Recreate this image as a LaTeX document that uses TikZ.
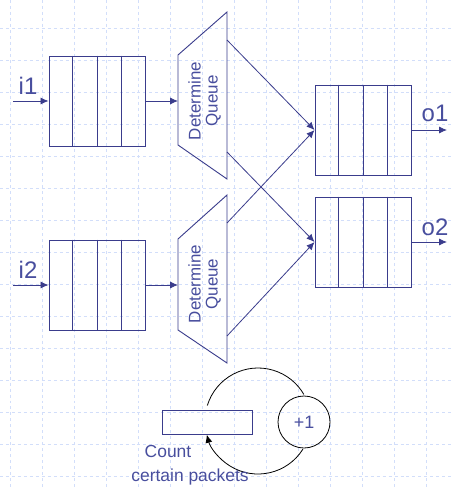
\documentclass[tikz,border=0pt]{standalone}
\usepackage{fontspec}
\setmainfont{Liberation Sans}
\usetikzlibrary{arrows.meta,calc}
\definecolor{ln}{RGB}{58,60,140}
\definecolor{tx}{RGB}{72,78,158}
\definecolor{gr}{RGB}{210,222,250}
\begin{document}
\begin{tikzpicture}[x=1bp,y=-1bp,
  queuebox/.style={draw=ln, line width=0.9bp, minimum width=96bp, minimum height=90bp, inner sep=0pt},
  conn/.style={draw=ln, line width=0.8bp, -{Latex[length=8bp,width=7bp]}},
  lbl/.style={text=tx, font=\fontsize{24}{28}\selectfont, inner sep=0pt, anchor=base},
  dq/.style={text=tx, font=\fontsize{17}{17}\selectfont, rotate=90, align=center, inner sep=0pt},
  gridline/.style={gr, dashed, line width=0.6bp},
  cnttext/.style={text=tx, font=\fontsize{17.5}{18}\selectfont, anchor=base, inner sep=0pt},
  ]
\useasboundingbox (0,0) rectangle (451,487);
\fill[white] (0,0) rectangle (451,487);
\foreach \x in {10,42,...,458} \draw[gridline] (\x,0) -- (\x,487);
\foreach \y in {-4,28,...,490} \draw[gridline] (0,\y) -- (451,\y);

% queues
\node[queuebox] (qi1) at (97,101) {};
\node[queuebox] (qi2) at (97,285) {};
\node[queuebox] (qo1) at (363,130) {};
\node[queuebox] (qo2) at (363,242) {};
\foreach \q in {qi1,qi2,qo1,qo2}
  \foreach \f in {0.25,0.5,0.75}
    \draw[ln, line width=0.9bp] ($(\q.north west)!\f!(\q.north east)$) -- ($(\q.south west)!\f!(\q.south east)$);

% trapezoids
\draw[ln, line width=0.9bp] (178,55) -- (227,12) -- (227,179) -- (178,145) -- cycle;
\draw[ln, line width=0.9bp] (178,239) -- (227,195) -- (227,363) -- (178,330) -- cycle;
\node[dq] (d1) at (204.5,101) {Determine\\Queue};
\node[dq] (d2) at (204.5,284) {Determine\\Queue};
\coordinate (t1in) at (178,101);
\coordinate (t1o1) at (227,40);
\coordinate (t1o2) at (227,152);
\coordinate (t2in) at (178,285);
\coordinate (t2o1) at (227,223);
\coordinate (t2o2) at (227,336);

% inputs
\coordinate (i1s) at (13,101);
\coordinate (i2s) at (13,285);
\draw[conn] (i1s) -- (qi1.west);
\draw[conn] (i2s) -- (qi2.west);
\node[lbl] (li1) at (28,95) {i1};
\node[lbl] (li2) at (28,278) {i2};
\draw[conn] (qi1.east) -- (t1in);
\draw[conn] (qi2.east) -- (t2in);

% crossing
\draw[conn] (t1o1) -- (qo1.west);
\draw[conn] (t1o2) -- (qo2.west);
\draw[conn] (t2o1) -- (qo1.west);
\draw[conn] (t2o2) -- (qo2.west);

% outputs
\coordinate (o1e) at (447,130);
\coordinate (o2e) at (447,242);
\draw[conn] (qo1.east) -- (o1e);
\draw[conn] (qo2.east) -- (o2e);
\node[lbl] (lo1) at (435,122) {o1};
\node[lbl] (lo2) at (435,235) {o2};

% counter
\node[draw=ln, line width=0.9bp, minimum width=90bp, minimum height=24bp, inner sep=0pt] (cnt) at (207,422) {};
\node[circle, draw=black, line width=0.8bp, minimum size=52bp, inner sep=0pt, text=tx, font=\fontsize{18}{18}\selectfont] (inc) at (304,422) {+1};
\coordinate (lc) at (258,421);
\draw[black, line width=0.8bp] ([shift={(197:53)}]lc) arc[start angle=197, end angle=330, radius=53];
\draw[black, line width=0.8bp, -{Latex[length=8bp,width=7bp]}] ([shift={(32:53)}]lc) arc[start angle=32, end angle=165, radius=53];
\node[cnttext] (c1) at (168,457) {Count};
\node[cnttext] (c2) at (190,481) {certain packets};
\end{tikzpicture}
\end{document}
